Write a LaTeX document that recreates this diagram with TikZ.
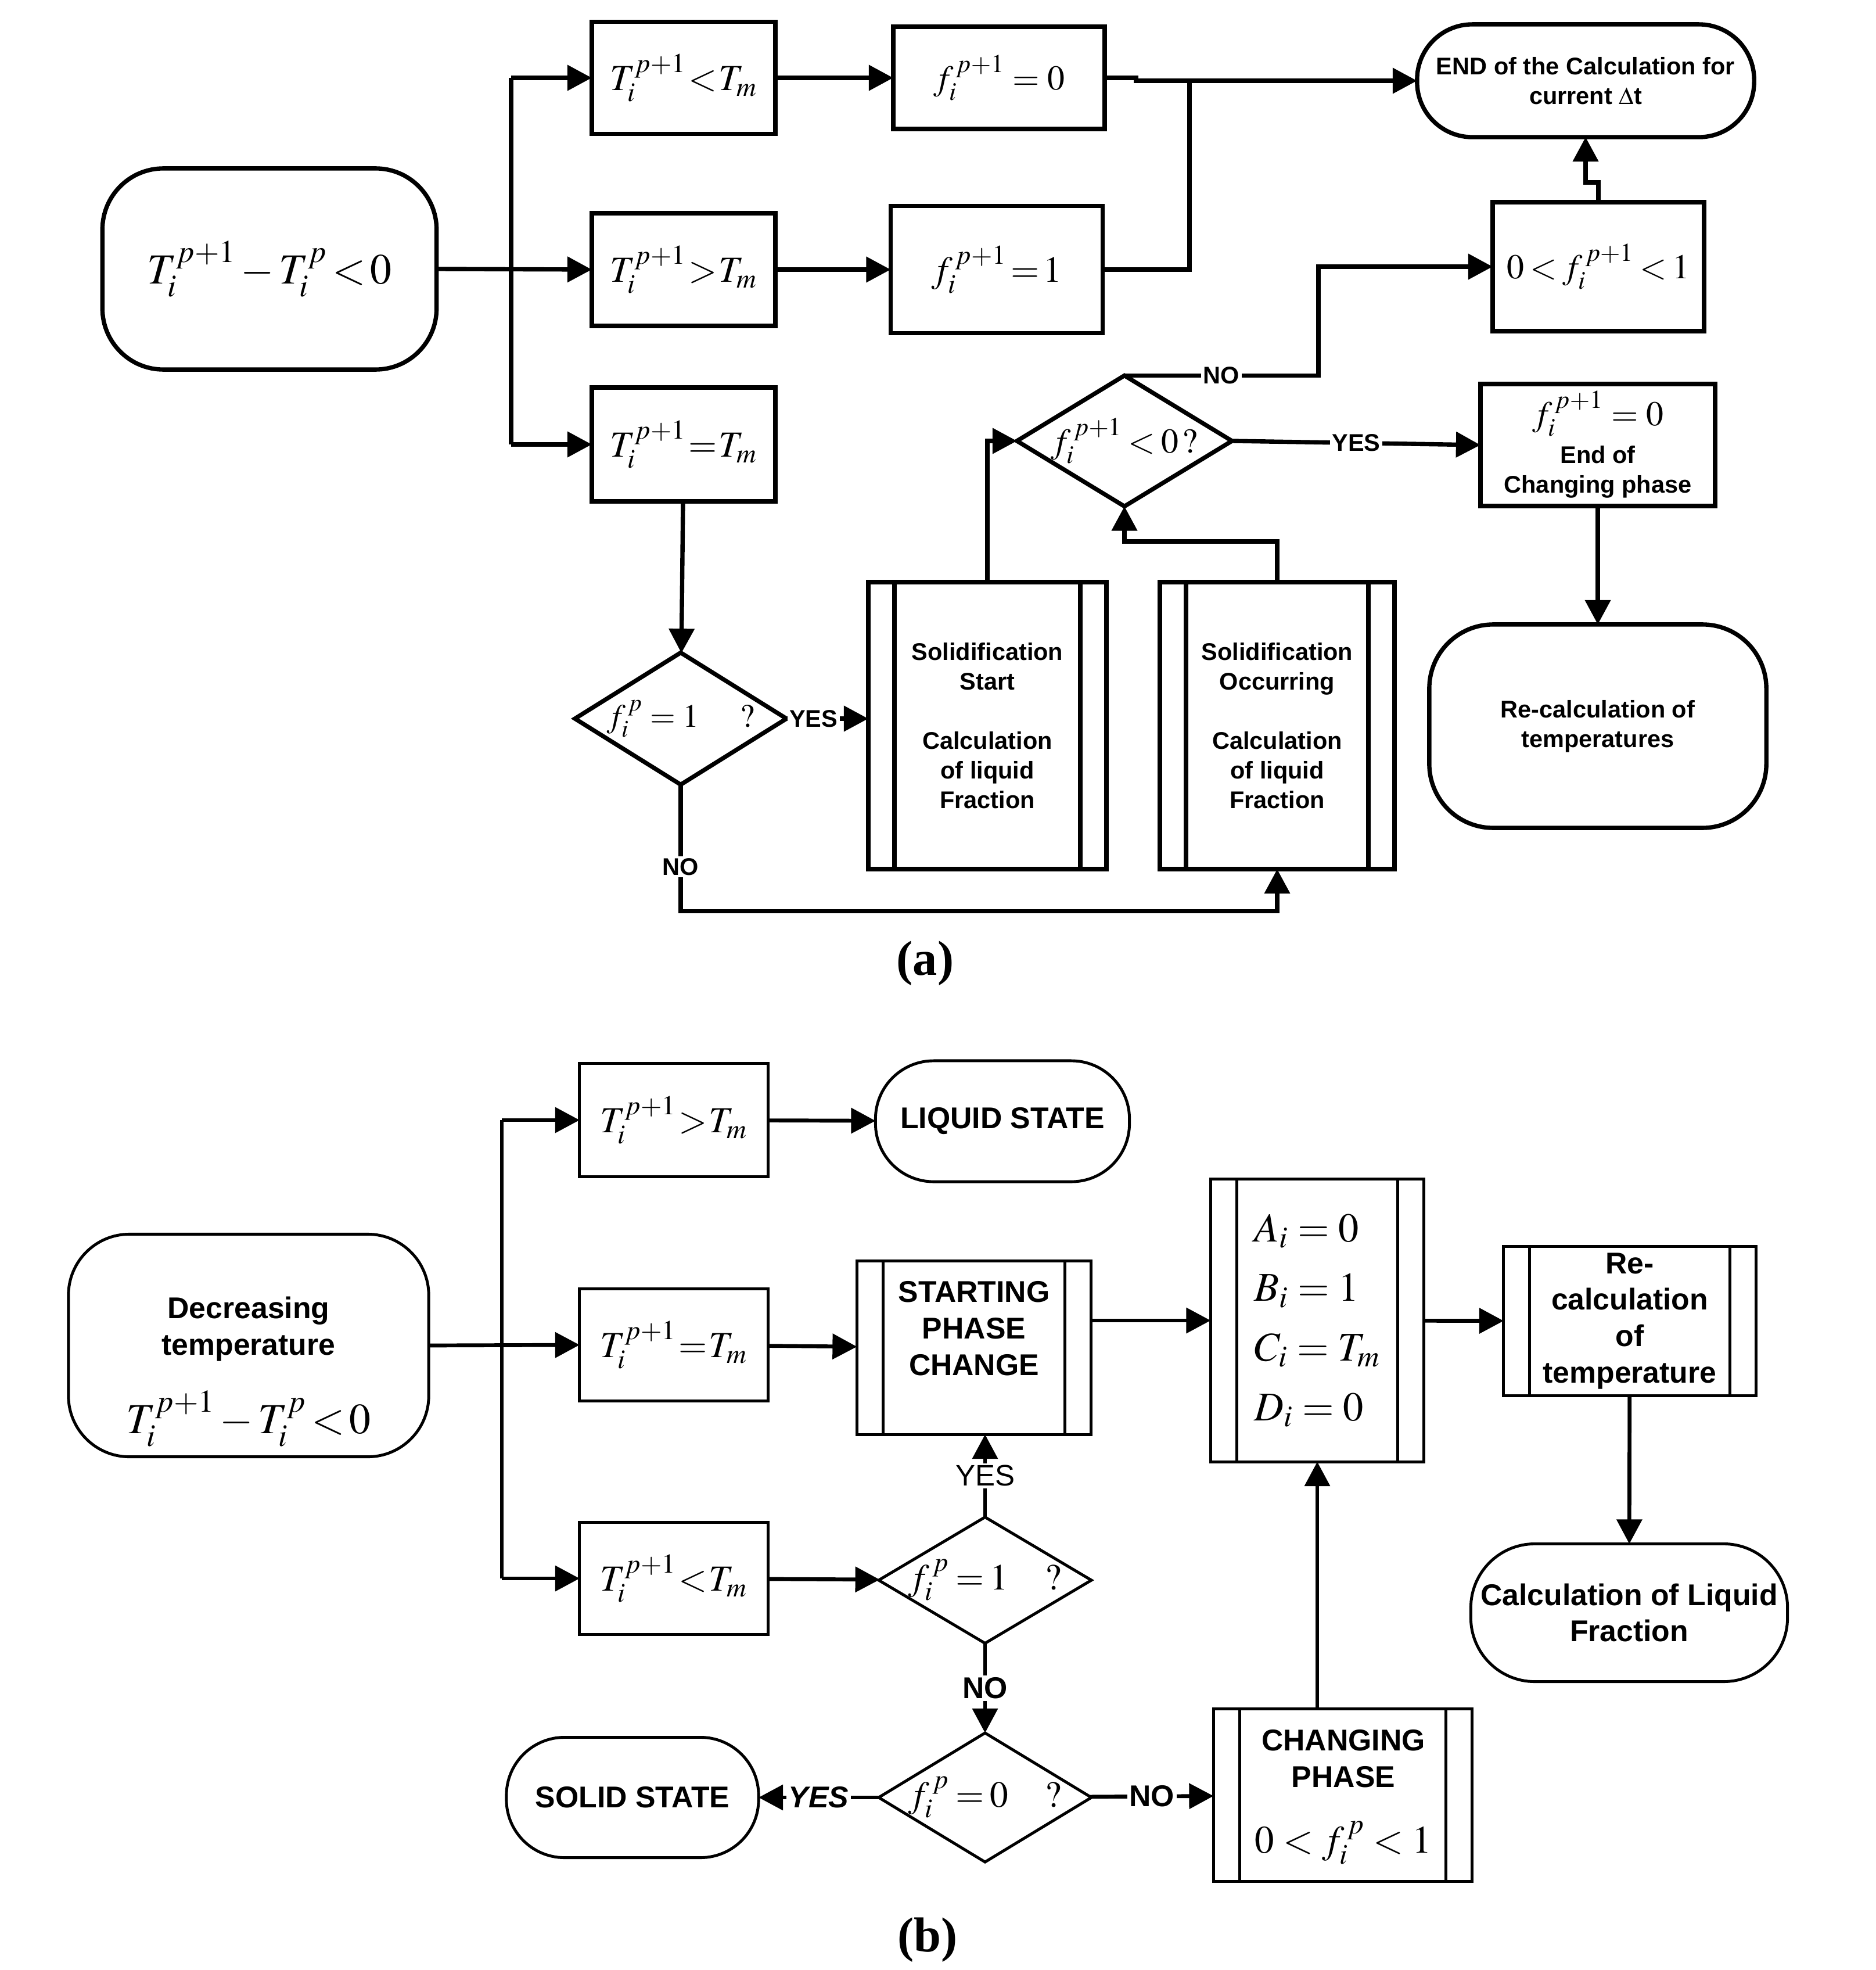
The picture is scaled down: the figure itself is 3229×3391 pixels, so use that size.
\documentclass[tikz,border=0pt]{standalone}
\usepackage{mathptmx}
\usepackage{fontspec}
\setmainfont{Liberation Serif}
\setsansfont{Liberation Sans}
\usetikzlibrary{positioning, calc, arrows.meta, shapes.geometric}
\newcommand{\txta}{\sffamily\bfseries\fontsize{11.8}{14.5}\selectfont}
\newcommand{\txtb}{\sffamily\bfseries\fontsize{14.7}{17.9}\selectfont}
\newcommand{\msz}[1]{\fontsize{#1}{#1}\selectfont}
\newcommand{\mspc}[1]{\thickmuskip=#1mu\medmuskip=#1mu}
\tikzset{box/.style={draw, rectangle, inner sep=0pt, outer sep=0pt, align=center}}
\tikzset{term/.style={box, rounded corners=#1}}
\tikzset{ppbox/.style={box, path picture={
	\draw[line width=#1] ([xshift=0.45cm]path picture bounding box.north west) -- ([xshift=0.45cm]path picture bounding box.south west);
	\draw[line width=#1] ([xshift=-0.45cm]path picture bounding box.north east) -- ([xshift=-0.45cm]path picture bounding box.south east);}}}
\tikzset{dec/.style={draw, diamond, inner sep=0pt, outer sep=0pt}}
\tikzset{arr/.style={draw, -{Triangle[length=4.2mm, width=4.3mm]}}}
\tikzset{cb/.style={line width=1.9pt}}
\tikzset{lbl/.style={fill=white, inner sep=1pt, font=\txta}}
\tikzset{lblb/.style={fill=white, inner sep=1pt, font=\txtb}}

\begin{document}
\begin{tikzpicture}[x=0.01cm, y=-0.01cm]
	\useasboundingbox (0,0) rectangle (3229,3391);
	% (a)
	\begin{scope}[line width=2.1pt]
		\node[term=1.05cm, minimum width=5.75cm, minimum height=3.46cm, font=\msz{21}\mspc{2}] (dT) at (464,463) {$T_i^{p+1} - T_i^{p} < 0$};
		\node[box, minimum width=3.16cm, minimum height=1.93cm, font=\msz{18}\mspc{1}] (lt) at (1177,134) {$T_i^{p+1} < T_m$};
		\node[box, minimum width=3.16cm, minimum height=1.94cm, font=\msz{18}\mspc{1}] (gt) at (1177,464) {$T_i^{p+1} > T_m$};
		\node[box, minimum width=3.16cm, minimum height=1.96cm, font=\msz{18}\mspc{1}] (eq) at (1177,765) {$T_i^{p+1} = T_m$};
		\node[box, minimum width=3.64cm, minimum height=1.76cm, font=\msz{17}\mspc{4}] (f0) at (1720,134) {$f_i^{\,p+1} = 0$};
		\node[box, minimum width=3.65cm, minimum height=2.19cm, font=\msz{18}\mspc{2}] (f1) at (1716,464) {$f_i^{\,p+1} = 1$};
		\node[term=0.95cm, minimum width=5.8cm, minimum height=1.94cm, font=\txta] (endc) at (2730,139) {END of the Calculation for\\current $\Delta$t};
		\node[box, minimum width=3.64cm, minimum height=2.22cm, font=\msz{17}\mspc{3}] (fm) at (2752,459) {$0 < f_i^{\,p+1} < 1$};
		\node[dec, minimum width=3.7cm, minimum height=2.25cm, font=\msz{17}\mspc{3}] (neg) at (1936,759) {\makebox[0pt]{$f_i^{\,p+1} < 0\,?$}};
		\node[box, minimum width=4.04cm, minimum height=2.1cm] (fz) at (2751,766) {};
		\node[font=\msz{17}] (fzm) at (2751,712) {$f_i^{\,p+1} = 0$};
		\node[font=\txta, align=center] (fzt) at (2751,812) {End of\\Changing phase};
		\node[term=1.1cm, minimum width=5.8cm, minimum height=3.5cm, font=\txta] (rct) at (2751,1250) {Re-calculation of\\temperatures};
		\node[dec, minimum width=3.64cm, minimum height=2.27cm, font=\msz{16}] (one) at (1172,1237) {\makebox[0pt]{$f_i^{\,p} = 1 \quad\ ?$}};
		\node[ppbox=2.1pt, minimum width=4.1cm, minimum height=4.94cm, font=\txta] (ss) at (1700,1249) {Solidification\\Start\\[14.5pt]Calculation\\of liquid\\Fraction};
		\node[ppbox=2.1pt, minimum width=4.04cm, minimum height=4.94cm, font=\txta] (so) at (2199,1249) {Solidification\\Occurring\\[14.5pt]Calculation\\of liquid\\Fraction};
		\node[font=\bfseries\fontsize{24}{24}\selectfont] (la) at (1593,1658) {(a)};
		%
		\coordinate (br) at (880,463);
		\coordinate (jn) at (2048,139);
		\draw (br |- lt) -- (br |- eq);
		\draw[arr] (dT.east) -- (gt.west);
		\draw[arr] (br |- lt) -- (lt.west);
		\draw[arr] (br |- eq) -- (eq.west);
		\draw[arr] (lt) -- (f0);
		\draw[arr] (gt) -- (f1);
		\draw[arr] (f0.east) -- ++(54,0) |- (endc.west);
		\draw (f1.east) -| (jn);
		\draw[arr] (fm.north) -- ++(0,-34) -| (endc.south);
		\draw[arr] (neg.north) -- node[lbl]{NO} ++(334,0) |- (fm.west);
		\draw[arr] (neg.east) -- node[lbl]{YES} (fz.west);
		\draw[arr] (fz) -- (rct);
		\draw[arr] (eq) -- (one);
		\draw[arr] (one.east) -- node[lbl, pos=0.33]{YES} (one.east -| ss.west);
		\draw[arr] (one.south) -- node[lbl, pos=0.65]{NO} ++(0,218) -| (so.south);
		\draw[arr] (ss.north) |- (neg.west);
		\draw[arr] (so.north) -- ++(0,-70) -| (neg.south);
	\end{scope}
	% (b)
	\begin{scope}[line width=1.4pt]
		\node[term=1.05cm, minimum width=6.2cm, minimum height=3.83cm] (dec) at (428,2316) {};
		\node[font=\txtb, align=center] (dect) at (428,2288) {Decreasing\\temperature};
		\node[font=\msz{21}\mspc{2}] (decm) at (428,2442) {$T_i^{p+1} - T_i^{p} < 0$};
		\node[box, minimum width=3.24cm, minimum height=1.95cm, font=\msz{18}\mspc{1}] (hi) at (1160,1928) {$T_i^{p+1} > T_m$};
		\node[box, minimum width=3.24cm, minimum height=1.93cm, font=\msz{18}\mspc{1}] (eqb) at (1160,2315) {$T_i^{p+1} = T_m$};
		\node[box, minimum width=3.24cm, minimum height=1.93cm, font=\msz{18}\mspc{1}] (lo) at (1160,2717) {$T_i^{p+1} < T_m$};
		\node[term=1.0cm, minimum width=4.37cm, minimum height=2.08cm, font=\txtb] (liq) at (1726,1930) {LIQUID STATE};
		\node[ppbox=1.4pt, minimum width=4.03cm, minimum height=2.98cm] (stc) at (1677,2320) {};
		\node[font=\txtb, align=center] (stct) at (1677,2287) {STARTING\\PHASE\\CHANGE};
		\node[ppbox=1.4pt, minimum width=3.67cm, minimum height=4.86cm, font=\fontsize{20}{29.2}\selectfont, align=left] (abcd) at (2268,2273) {$A_i = 0$\\$B_i = 1$\\$C_i = T_m$\\$D_i = 0$};
		\node[ppbox=1.4pt, minimum width=4.34cm, minimum height=2.57cm, font=\txtb] (rcb) at (2806,2274) {Re-\\calculation\\of\\temperature};
		\node[term=1.1cm, minimum width=5.45cm, minimum height=2.37cm, font=\txtb] (clf) at (2805,2776) {Calculation of Liquid\\Fraction};
		\node[dec, minimum width=3.66cm, minimum height=2.17cm, font=\msz{18}\mspc{3}] (d1) at (1696,2720) {\makebox[0pt]{$f_i^{\,p} = 1 \quad ?$}};
		\node[dec, minimum width=3.66cm, minimum height=2.22cm, font=\msz{18}\mspc{3}] (d0) at (1696,3094) {\makebox[0pt]{$f_i^{\,p} = 0 \quad ?$}};
		\node[term=1.0cm, minimum width=4.34cm, minimum height=2.07cm, font=\txtb] (sol) at (1089,3094) {SOLID STATE};
		\node[ppbox=1.4pt, minimum width=4.45cm, minimum height=2.97cm] (chg) at (2312,3090) {};
		\node[font=\txtb, align=center] (chgt) at (2313,3027) {CHANGING\\PHASE};
		\node[font=\msz{19}] (chgm) at (2313,3172) {$0 < f_i^{\,p} < 1$};
		\node[font=\bfseries\fontsize{24}{24}\selectfont] (lb) at (1597,3339) {(b)};
		%
		\coordinate (bb) at (864,2316);
		\draw[cb] (bb |- hi) -- (bb |- lo);
		\draw[cb, arr] (dec.east) -- (eqb.west);
		\draw[cb, arr] (bb |- hi) -- (hi.west);
		\draw[cb, arr] (bb |- lo) -- (lo.west);
		\draw[cb, arr] (hi) -- (liq);
		\draw[cb, arr] (eqb) -- (stc);
		\draw[cb, arr] (lo) -- (d1);
		\draw[cb, arr] (d1.north) -- node[lblb, font=\sffamily\fontsize{14.5}{14.5}\selectfont]{YES} (d1.north |- stc.south);
		\draw[cb, arr] (d1) -- node[lblb]{NO} (d0);
		\draw[cb, arr] (d0) -- node[lblb, font=\txtb\itshape]{YES} (sol);
		\draw[cb, arr] (d0) -- node[lblb]{NO} (chg);
		\draw[cb, arr] (chg.north -| abcd.south) -- (abcd.south);
		\draw[cb, arr] (stc.east |- abcd.west) -- (abcd.west);
		\draw[cb, arr] (abcd) -- (rcb);
		\draw[cb, arr] (rcb) -- (clf);
	\end{scope}
\end{tikzpicture}
\end{document}
